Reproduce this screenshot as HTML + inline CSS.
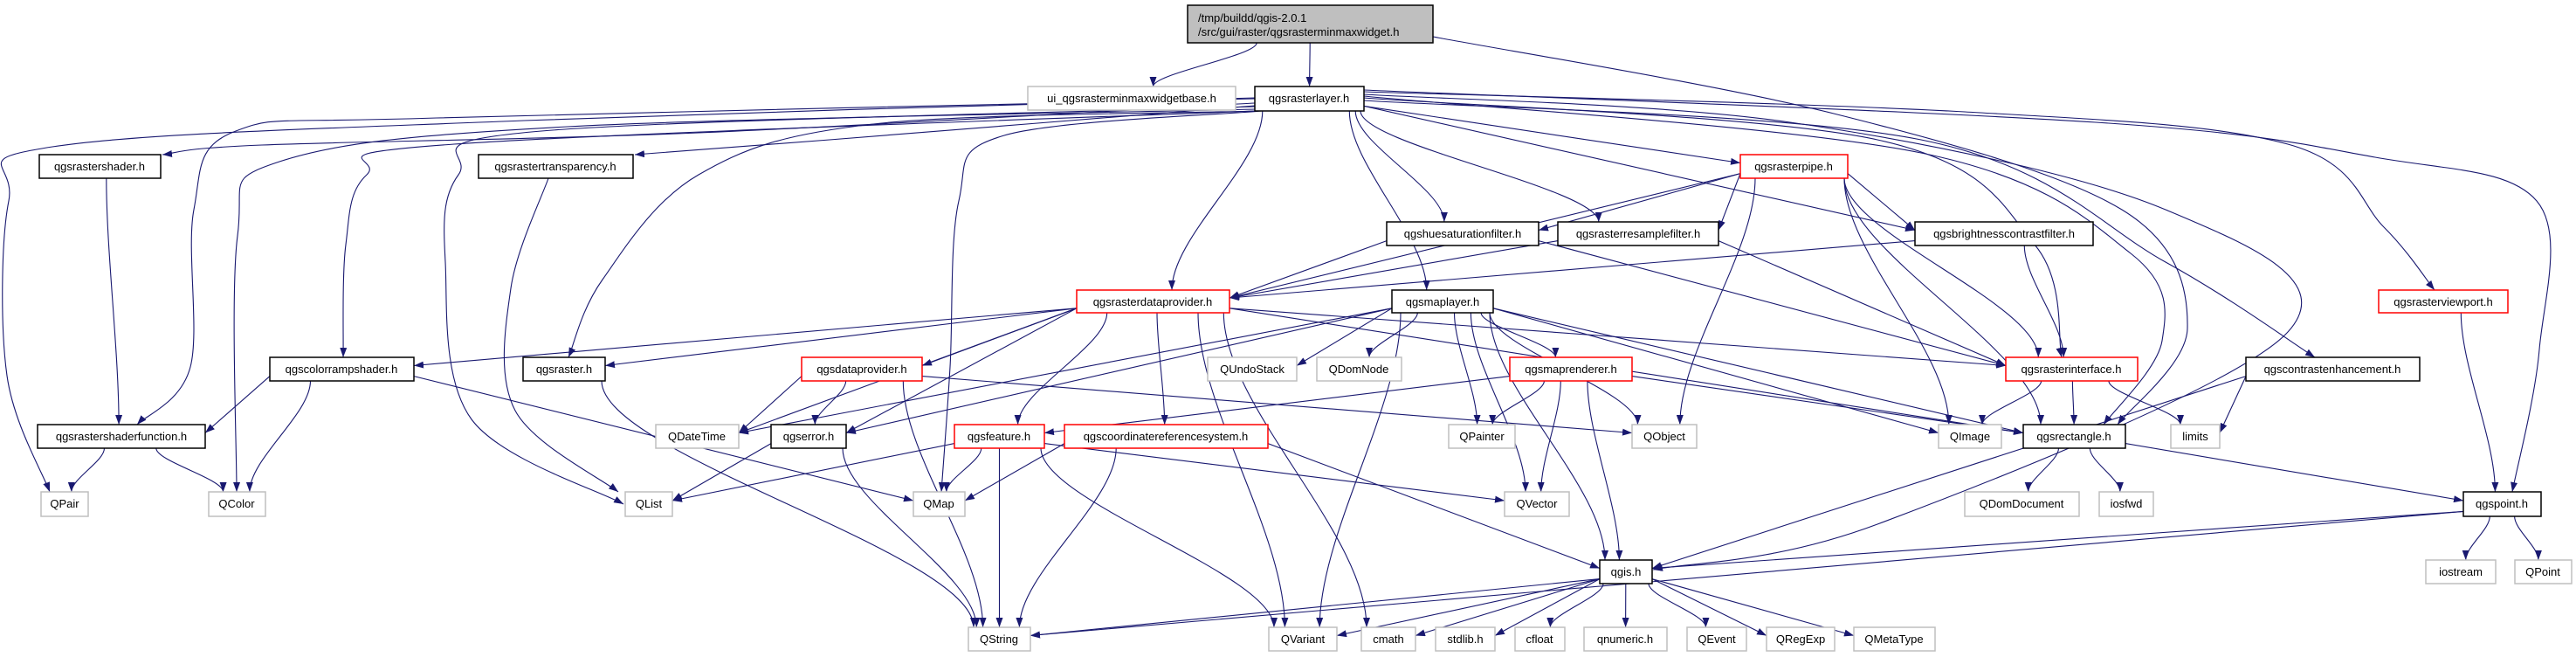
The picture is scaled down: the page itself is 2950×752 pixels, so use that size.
<!DOCTYPE html>
<html><head><meta charset="utf-8">
<style>
html,body{margin:0;padding:0;background:#fff;}
svg{display:block;}
text{font-family:"Liberation Sans",sans-serif;font-size:13px;fill:#000;}
rect.n{fill:#fff;stroke:#000;stroke-width:1.5;}
rect.r{fill:#fff;stroke:#ff0000;stroke-width:1.5;}
rect.g{fill:#fff;stroke:#bfbfbf;stroke-width:1.5;}
path.e{fill:none;stroke:#191970;stroke-width:1.1;}
</style></head>
<body>
<svg id="s" width="2950" height="752" viewBox="0 0 2950 752" xmlns="http://www.w3.org/2000/svg">
<defs><marker id="ah" markerWidth="11" markerHeight="8" refX="11" refY="4" orient="auto" markerUnits="userSpaceOnUse"><path d="M0,0 L11,4 L0,8 z" fill="#191970"/></marker></defs>
<g id="edges"></g>
<g id="nodes" text-anchor="middle">
<rect id="top" x="1360" y="6" width="281" height="43" style="fill:#bfbfbf;stroke:#000;stroke-width:1.5"/>
<text x="1372" y="25" text-anchor="start">/tmp/buildd/qgis-2.0.1</text>
<text x="1372" y="41" text-anchor="start">/src/gui/raster/qgsrasterminmaxwidget.h</text>
<rect id="ui" class="g" x="1177" y="99" width="238" height="27"/><text x="1296" y="117">ui_qgsrasterminmaxwidgetbase.h</text>
<rect id="rl" class="n" x="1437" y="99" width="125" height="28"/><text x="1499" y="117">qgsrasterlayer.h</text>
<rect id="rs" class="n" x="45" y="177" width="139" height="27"/><text x="114" y="195">qgsrastershader.h</text>
<rect id="rt" class="n" x="548" y="177" width="177" height="27"/><text x="636" y="195">qgsrastertransparency.h</text>
<rect id="rp" class="r" x="1993" y="177" width="123" height="27"/><text x="2054" y="195">qgsrasterpipe.h</text>
<rect id="hs" class="n" x="1588" y="254" width="174" height="27"/><text x="1675" y="272">qgshuesaturationfilter.h</text>
<rect id="rr" class="n" x="1784" y="254" width="184" height="27"/><text x="1876" y="272">qgsrasterresamplefilter.h</text>
<rect id="bc" class="n" x="2193" y="254" width="204" height="27"/><text x="2295" y="272">qgsbrightnesscontrastfilter.h</text>
<rect id="dp" class="r" x="1233" y="332" width="175" height="26"/><text x="1320" y="350">qgsrasterdataprovider.h</text>
<rect id="ml" class="n" x="1594" y="332" width="116" height="26"/><text x="1652" y="350">qgsmaplayer.h</text>
<rect id="rv" class="r" x="2724" y="332" width="148" height="26"/><text x="2798" y="350">qgsrasterviewport.h</text>
<rect id="cr" class="n" x="309" y="409" width="165" height="27"/><text x="391" y="427">qgscolorrampshader.h</text>
<rect id="ra" class="n" x="599" y="409" width="94" height="27"/><text x="646" y="427">qgsraster.h</text>
<rect id="dpv" class="r" x="918" y="409" width="138" height="27"/><text x="987" y="427">qgsdataprovider.h</text>
<rect id="us" class="g" x="1383" y="409" width="102" height="27"/><text x="1434" y="427">QUndoStack</text>
<rect id="dn" class="g" x="1508" y="409" width="97" height="27"/><text x="1556" y="427">QDomNode</text>
<rect id="mr" class="r" x="1729" y="409" width="140" height="27"/><text x="1799" y="427">qgsmaprenderer.h</text>
<rect id="ri" class="r" x="2297" y="409" width="151" height="27"/><text x="2372" y="427">qgsrasterinterface.h</text>
<rect id="ce" class="n" x="2572" y="409" width="199" height="27"/><text x="2671" y="427">qgscontrastenhancement.h</text>
<rect id="sf" class="n" x="43" y="486" width="192" height="27"/><text x="139" y="504">qgsrastershaderfunction.h</text>
<rect id="dt" class="g" x="751" y="486" width="95" height="27"/><text x="798" y="504">QDateTime</text>
<rect id="er" class="n" x="883" y="486" width="86" height="27"/><text x="926" y="504">qgserror.h</text>
<rect id="fe" class="r" x="1093" y="486" width="103" height="27"/><text x="1144" y="504">qgsfeature.h</text>
<rect id="crs" class="r" x="1219" y="486" width="233" height="27"/><text x="1335" y="504">qgscoordinatereferencesystem.h</text>
<rect id="pa" class="g" x="1659" y="486" width="76" height="27"/><text x="1697" y="504">QPainter</text>
<rect id="ob" class="g" x="1869" y="486" width="74" height="27"/><text x="1906" y="504">QObject</text>
<rect id="im" class="g" x="2220" y="486" width="72" height="27"/><text x="2256" y="504">QImage</text>
<rect id="rc" class="n" x="2317" y="486" width="117" height="27"/><text x="2375" y="504">qgsrectangle.h</text>
<rect id="li" class="g" x="2486" y="486" width="56" height="27"/><text x="2514" y="504">limits</text>
<rect id="pr" class="g" x="47" y="563" width="54" height="28"/><text x="74" y="581">QPair</text>
<rect id="co" class="g" x="239" y="563" width="65" height="28"/><text x="271" y="581">QColor</text>
<rect id="ls" class="g" x="716" y="563" width="54" height="28"/><text x="743" y="581">QList</text>
<rect id="mp" class="g" x="1046" y="563" width="59" height="28"/><text x="1075" y="581">QMap</text>
<rect id="ve" class="g" x="1723" y="563" width="74" height="28"/><text x="1760" y="581">QVector</text>
<rect id="dd" class="g" x="2250" y="563" width="131" height="28"/><text x="2315" y="581">QDomDocument</text>
<rect id="iw" class="g" x="2404" y="563" width="62" height="28"/><text x="2435" y="581">iosfwd</text>
<rect id="pt" class="n" x="2821" y="563" width="89" height="28"/><text x="2865" y="581">qgspoint.h</text>
<rect id="qg" class="n" x="1832" y="641" width="60" height="27"/><text x="1862" y="659">qgis.h</text>
<rect id="is" class="g" x="2778" y="641" width="80" height="27"/><text x="2818" y="659">iostream</text>
<rect id="qp" class="g" x="2880" y="641" width="65" height="27"/><text x="2912" y="659">QPoint</text>
<rect id="st" class="g" x="1109" y="718" width="71" height="27"/><text x="1144" y="736">QString</text>
<rect id="va" class="g" x="1453" y="718" width="78" height="27"/><text x="1492" y="736">QVariant</text>
<rect id="cm" class="g" x="1559" y="718" width="62" height="27"/><text x="1590" y="736">cmath</text>
<rect id="sl" class="g" x="1644" y="718" width="68" height="27"/><text x="1678" y="736">stdlib.h</text>
<rect id="cf" class="g" x="1735" y="718" width="57" height="27"/><text x="1763" y="736">cfloat</text>
<rect id="qn" class="g" x="1814" y="718" width="95" height="27"/><text x="1861" y="736">qnumeric.h</text>
<rect id="qe" class="g" x="1932" y="718" width="68" height="27"/><text x="1966" y="736">QEvent</text>
<rect id="rx" class="g" x="2023" y="718" width="78" height="27"/><text x="2062" y="736">QRegExp</text>
<rect id="mt" class="g" x="2123" y="718" width="93" height="27"/><text x="2169" y="736">QMetaType</text>
</g>
</svg>
<script>
(function(){
var NS="http://www.w3.org/2000/svg",G=document.getElementById("edges");
function B(id){var r=document.getElementById(id);var x=+r.getAttribute("x"),y=+r.getAttribute("y"),w=+r.getAttribute("width"),h=+r.getAttribute("height");return{x1:x,y1:y,x2:x+w,y2:y+h,cx:x+w/2,cy:y+h/2,w:w,h:h};}
function cl(v,a,b){return Math.max(a,Math.min(b,v));}
function add(d){var p=document.createElementNS(NS,"path");p.setAttribute("d",d);p.setAttribute("class","e");p.setAttribute("marker-end","url(#ah)");G.appendChild(p);}
function smooth(P){var d="M"+P[0][0]+","+P[0][1];for(var i=0;i<P.length-1;i++){var p0=P[i-1]||P[i],p1=P[i],p2=P[i+1],p3=P[i+2]||p2;
var c1=[p1[0]+(p2[0]-p0[0])/6,p1[1]+(p2[1]-p0[1])/6],c2=[p2[0]-(p3[0]-p1[0])/6,p2[1]-(p3[1]-p1[1])/6];
d+=" C"+c1[0].toFixed(1)+","+c1[1].toFixed(1)+" "+c2[0].toFixed(1)+","+c2[1].toFixed(1)+" "+p2[0]+","+p2[1];}return d;}
function auto(a,b){var s=B(a),t=B(b);var dx=t.cx-s.cx,dy=t.y1-s.y2;
 if(Math.abs(dx)>3*Math.max(dy,1)&&(t.x1>s.x2||t.x2<s.x1)){
  var sx=dx>0?s.x2:s.x1,sy=s.cy+s.h*0.3,ex=dx>0?t.x1:t.x2,ey=t.cy-4;
  add("M"+sx+","+sy+" L"+ex+","+ey);return;}
 var sx=s.cx+cl(dx*0.3,-s.w/2+4,s.w/2-4),sy=s.y2;
 var ex=t.cx+cl(-dx*0.12,-t.w/2+6,t.w/2-6),ey=t.y1;var d=ey-sy;
 add("M"+sx.toFixed(1)+","+sy+" C"+sx.toFixed(1)+","+(sy+d*0.3).toFixed(1)+" "+ex.toFixed(1)+","+(ey-d*0.3).toFixed(1)+" "+ex.toFixed(1)+","+ey);}
var A=[["top","ui"],["top","rl"],
["rl","rp"],["rl","hs"],["rl","rr"],["rl","bc"],["rl","dp"],["rl","ml"],
["rs","sf"],
["rp","hs"],["rp","rr"],["rp","bc"],["rp","dp"],["rp","ri"],["rp","im"],["rp","rc"],["rp","ob"],
["hs","dp"],["hs","ri"],["rr","dp"],["rr","ri"],["bc","dp"],["bc","ri"],
["dp","cr"],["dp","ra"],["dp","dpv"],["dp","dt"],["dp","er"],["dp","fe"],["dp","crs"],["dp","va"],["dp","cm"],["dp","ri"],["dp","rc"],
["ml","dt"],["ml","er"],["ml","us"],["ml","dn"],["ml","mr"],["ml","pa"],["ml","ob"],["ml","va"],["ml","qg"],["ml","rc"],["ml","im"],["ml","ve"],
["rv","pt"],["cr","sf"],["cr","co"],["cr","mp"],["ra","st"],
["dpv","dt"],["dpv","er"],["dpv","st"],["dpv","ob"],
["mr","fe"],["mr","pa"],["mr","ve"],["mr","qg"],["mr","rc"],
["ri","im"],["ri","rc"],["ri","li"],["ce","li"],["ce","qg"],
["sf","pr"],["sf","co"],["er","ls"],["er","st"],
["fe","ls"],["fe","mp"],["fe","st"],["fe","va"],["fe","ve"],
["crs","mp"],["crs","st"],["crs","qg"],
["rc","dd"],["rc","iw"],["rc","pt"],["pt","qg"],["pt","st"],["pt","is"],["pt","qp"],
["qg","st"],["qg","va"],["qg","cm"],["qg","sl"],["qg","cf"],["qg","qn"],["qg","qe"],["qg","rx"],["qg","mt"]];
A.forEach(function(e){auto(e[0],e[1]);});
var S=[
[[1437,118],[800,152],[300,166],[186,177]],
[[1437,121],[950,160],[727,177]],
[[1437,112],[600,138],[60,168],[10,230],[8,430],[57,563]],
[[1437,113],[500,135],[270,150],[222,240],[218,420],[157,486]],
[[1437,125],[650,145],[320,185],[272,270],[271,563]],
[[1437,127],[520,165],[420,200],[396,280],[393,409]],
[[1437,122],[620,150],[525,200],[510,300],[540,480],[714,577]],
[[628,204],[585,330],[590,470],[708,563]],
[[1440,127],[1000,142],[800,200],[690,320],[651,409]],
[[1445,127],[1150,155],[1098,230],[1088,420],[1078,563]],
[[1562,105],[2250,128],[2620,165],[2730,260],[2788,332]],
[[1562,103],[2400,140],[2720,180],[2905,230],[2908,400],[2877,563]],
[[1562,112],[2150,160],[2330,280],[2361,409]],
[[1562,115],[2200,160],[2480,300],[2651,409]],
[[1562,108],[2050,140],[2480,240],[2620,380],[2150,600],[1893,652]],
[[1641,42],[2100,130],[2430,240],[2505,376],[2425,486]],
[[1562,110],[2200,175],[2440,290],[2476,390],[2409,486]]
];
S.forEach(function(P){add(smooth(P));});
})();
</script>
</body></html>
